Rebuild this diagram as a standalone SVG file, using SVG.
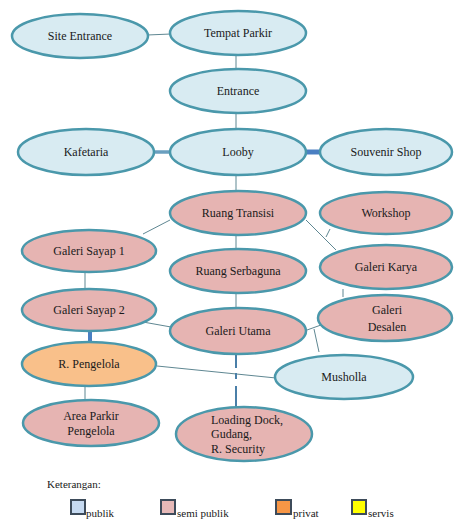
<svg xmlns="http://www.w3.org/2000/svg" width="454" height="520" viewBox="0 0 454 520" font-family="Liberation Serif, Times New Roman, Tinos, DejaVu Serif, serif">
<style>
text{font-size:12px;fill:#1a1a1a}
.n ellipse{stroke:#4a98ab;stroke-width:2.5}
.pub ellipse{fill:#d8ebf2}
.semi ellipse{fill:#e6b4b2}
.priv ellipse{fill:#f9c08a}
.c line{stroke:#5f8792;stroke-width:1}
.c .dd{stroke:#4a7fa8;stroke-width:2}
.lg rect{stroke:#3d4b5a;stroke-width:2}
.lg text{font-size:11px}
</style>
<rect width="454" height="520" fill="#ffffff"/>
<g class="c" id="connectors">
<line x1="147" y1="35" x2="171" y2="34"/>
<line x1="236" y1="55" x2="236" y2="70"/>
<line x1="236" y1="113" x2="236" y2="130"/>
<line x1="154" y1="152" x2="171" y2="152" style="stroke:#6a9fbf;stroke-width:3.5"/>
<line x1="305" y1="152" x2="320" y2="152" style="stroke:#4a7fc2;stroke-width:5"/>
<line x1="236" y1="175" x2="236" y2="192"/>
<line x1="170" y1="220" x2="143" y2="234"/>
<line x1="306" y1="220" x2="336" y2="250"/>
<line x1="330" y1="229" x2="326" y2="237"/>
<line x1="236" y1="235" x2="236" y2="250"/>
<line x1="85" y1="271" x2="85" y2="291"/>
<line x1="343" y1="289" x2="343" y2="297"/>
<line x1="236" y1="293" x2="236" y2="309"/>
<line x1="143" y1="322" x2="171" y2="327"/>
<line x1="307" y1="330" x2="321" y2="325"/>
<line x1="314" y1="329" x2="319" y2="352"/>
<line x1="90" y1="330" x2="90" y2="343" style="stroke:#4a7fc2;stroke-width:4"/>
<line x1="157" y1="366" x2="276" y2="378"/>
<line x1="85" y1="386" x2="85" y2="401"/>
<line class="dd" x1="236" y1="354" x2="236" y2="368"/>
<line class="dd" x1="236" y1="373" x2="236" y2="379"/>
<line class="dd" x1="236" y1="386" x2="236" y2="408"/>
</g>
<g id="site-entrance" class="n pub"><ellipse cx="80" cy="36" rx="68" ry="22"/><text x="80" y="40" text-anchor="middle">Site Entrance</text></g>
<g id="tempat-parkir" class="n pub"><ellipse cx="238" cy="33" rx="68" ry="22"/><text x="238" y="37" text-anchor="middle">Tempat Parkir</text></g>
<g id="entrance" class="n pub"><ellipse cx="238" cy="91" rx="68" ry="22"/><text x="238" y="95" text-anchor="middle">Entrance</text></g>
<g id="kafetaria" class="n pub"><ellipse cx="86" cy="152" rx="68" ry="23"/><text x="86" y="156" text-anchor="middle">Kafetaria</text></g>
<g id="looby" class="n pub"><ellipse cx="238" cy="152" rx="68" ry="23"/><text x="238" y="156" text-anchor="middle">Looby</text></g>
<g id="souvenir-shop" class="n pub"><ellipse cx="386" cy="152" rx="66" ry="23"/><text x="386" y="156" text-anchor="middle">Souvenir Shop</text></g>
<g id="ruang-transisi" class="n semi"><ellipse cx="238" cy="213" rx="68" ry="22"/><text x="238" y="217" text-anchor="middle">Ruang Transisi</text></g>
<g id="workshop" class="n semi"><ellipse cx="386" cy="213" rx="66" ry="21"/><text x="386" y="217" text-anchor="middle">Workshop</text></g>
<g id="galeri-sayap-1" class="n semi"><ellipse cx="89" cy="251" rx="67" ry="21"/><text x="89" y="255" text-anchor="middle">Galeri Sayap 1</text></g>
<g id="ruang-serbaguna" class="n semi"><ellipse cx="238" cy="271" rx="68" ry="22"/><text x="238" y="275" text-anchor="middle">Ruang Serbaguna</text></g>
<g id="galeri-karya" class="n semi"><ellipse cx="386" cy="267" rx="66" ry="22"/><text x="386" y="271" text-anchor="middle">Galeri Karya</text></g>
<g id="galeri-sayap-2" class="n semi"><ellipse cx="89" cy="310" rx="67" ry="21"/><text x="89" y="314" text-anchor="middle">Galeri Sayap 2</text></g>
<g id="galeri-utama" class="n semi"><ellipse cx="238" cy="331" rx="68" ry="23"/><text x="238" y="335" text-anchor="middle">Galeri Utama</text></g>
<g id="galeri-desalen" class="n semi"><ellipse cx="385" cy="318" rx="67" ry="23"/><text x="387" y="314" text-anchor="middle">Galeri</text><text x="387" y="331" text-anchor="middle">Desalen</text></g>
<g id="r-pengelola" class="n priv"><ellipse cx="89" cy="364" rx="67" ry="22"/><text x="89" y="368" text-anchor="middle">R. Pengelola</text></g>
<g id="musholla" class="n pub"><ellipse cx="344" cy="377" rx="69" ry="22"/><text x="344" y="381" text-anchor="middle">Musholla</text></g>
<g id="area-parkir-pengelola" class="n semi"><ellipse cx="91" cy="423" rx="68" ry="23"/><text x="91" y="420" text-anchor="middle">Area Parkir</text><text x="91" y="435" text-anchor="middle">Pengelola</text></g>
<g id="loading-dock" class="n semi"><ellipse cx="244" cy="434" rx="68" ry="27"/><text x="211" y="424">Loading Dock,</text><text x="211" y="438">Gudang,</text><text x="211" y="453">R. Security</text></g>
<g id="legend" class="lg">
<text x="47" y="488">Keterangan:</text>
<rect x="71" y="500" width="14" height="14" fill="#c6daf1"/><text x="86" y="517">publik</text>
<rect x="161" y="500" width="14" height="14" fill="#e6b9b8"/><text x="177" y="517">semi publik</text>
<rect x="276" y="500" width="15" height="14" fill="#f79646"/><text x="293" y="517">privat</text>
<rect x="352" y="500" width="14" height="14" fill="#ffff00"/><text x="368" y="517">servis</text>
</g>
</svg>
